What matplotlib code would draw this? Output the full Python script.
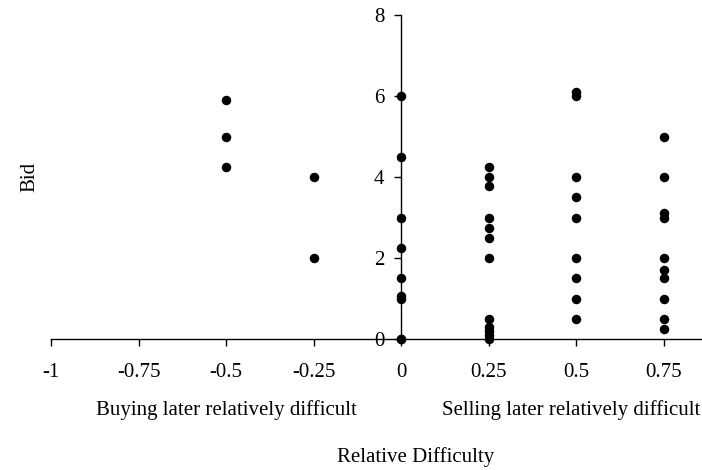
import matplotlib
matplotlib.use("Agg")
import matplotlib.pyplot as plt

plt.rcParams['font.family'] = ['Liberation Serif', 'DejaVu Serif']

# Data: relative difficulty (x) and bids (y)
x_m050 = [-0.5, -0.5, -0.5]
y_m050 = [5.9, 5.0, 4.25]
x_m025 = [-0.25, -0.25]
y_m025 = [4.0, 2.0]
x_000 = [0] * 9
y_000 = [6.0, 4.5, 3.0, 2.25, 1.5, 1.05, 1.0, 0.0, 0.0]
x_025 = [0.25] * 12
y_025 = [4.25, 4.0, 3.77, 3.0, 2.75, 2.5, 2.0, 0.5, 0.3, 0.2, 0.1, 0.0]
x_050 = [0.5] * 9
y_050 = [6.1, 6.0, 4.0, 3.5, 3.0, 2.0, 1.5, 1.0, 0.5]
x_075 = [0.75] * 10
y_075 = [5.0, 4.0, 3.1, 3.0, 2.0, 1.7, 1.5, 1.0, 0.5, 0.25]

xticks = [-1, -0.75, -0.5, -0.25, 0, 0.25, 0.5, 0.75]
xticklabels = ['-1', '-0.75', '-0.5', '-0.25', '0', '0.25', '0.5', '0.75']
yticks = [0, 2, 4, 6, 8]

xs = x_m050 + x_m025 + x_000 + x_025 + x_050 + x_075
ys = y_m050 + y_m025 + y_000 + y_025 + y_050 + y_075

fig = plt.figure(figsize=(7.02, 4.70), dpi=100)
ax = fig.add_axes([51/702, (470-339)/470, 1 - 51/702, (339-15)/470])

ax.scatter(xs, ys, s=34, color='black', zorder=3, clip_on=False)

ax.set_xlim(-1, 0.86)
ax.set_ylim(0, 8)

ax.spines['left'].set_position(('data', 0))
ax.spines['right'].set_visible(False)
ax.spines['top'].set_visible(False)
for sp in ['left', 'bottom']:
    ax.spines[sp].set_linewidth(1.0)
    ax.spines[sp].set_color('black')

ax.set_xticks(xticks)
ax.set_xticklabels(xticklabels)
ax.set_yticks(yticks)
ax.tick_params(axis='x', direction='out', length=5, width=1, labelsize=15, pad=12)
ax.tick_params(axis='y', direction='out', length=5, width=1, labelsize=15, pad=7)

trans = matplotlib.transforms.blended_transform_factory(ax.transData, fig.transFigure)
fig.text(-0.5, (470-410)/470, 'Buying later relatively difficult', transform=trans,
         ha='center', va='center', fontsize=15)
fig.text(0.485, (470-410)/470, 'Selling later relatively difficult', transform=trans,
         ha='center', va='center', fontsize=15)
fig.text(416/702, (470-457)/470, 'Relative Difficulty', ha='center', va='center', fontsize=15)
fig.text(30/702, (470-177)/470, 'Bid', ha='center', va='center', rotation=90, fontsize=15)

fig.savefig('out.png', dpi=100)
